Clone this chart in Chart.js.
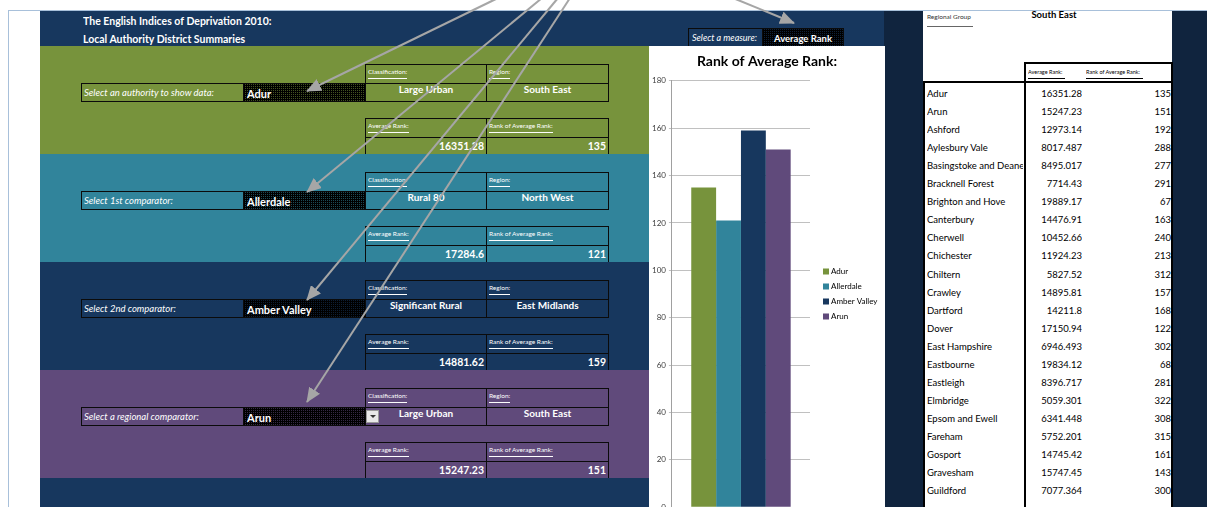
<!DOCTYPE html>
<html>
<head>
<meta charset="utf-8">
<script src="https://cdn.jsdelivr.net/npm/chart.js@4.4.1/dist/chart.umd.min.js"></script>
<style>
  html, body { margin: 0; padding: 0; width: 1207px; height: 507px; overflow: hidden; background: #fff; font-family: Lato, "Open Sans", sans-serif; }
  .abs { position: absolute; box-sizing: border-box; white-space: nowrap; overflow: hidden; }
  .cell { border: 1px solid #0b0b0b; color: #fff; }
  .hdr { font-size: 6.5px; padding: 3px 0 0 2px; }
  .hdr span { display: inline-block; border-bottom: 1px solid #fff; padding-bottom: 3px; }
  .val { font-size: 10px; font-weight: bold; text-align: center; line-height: 11px; }
  .num { font-size: 10.5px; font-weight: bold; text-align: right; padding-right: 2px; line-height: 16px; }
  .lbl { font-size: 9.5px; font-style: italic; padding-left: 2px; line-height: 17px; }
  .pick { font-size: 11px; font-weight: bold; padding-left: 3px; line-height: 19px; background-color: #000; background-size: 2px 2px; }
  .row { font-size: 9.5px; color: #000; line-height: 12px; }
  #chartBox { position: absolute; left: 649px; top: 46px; width: 236px; height: 469px; background: #fff; }
</style>
</head>
<body>
<div id="page"></div>
<div id="chartBox"><canvas id="rankChart"></canvas></div>
<svg id="arrows" class="abs" style="left:0;top:0;overflow:visible" width="1207" height="507"></svg>

<script>
// --- Data ---
const authorities = ["Adur", "Allerdale", "Amber Valley", "Arun"];
const rankOfAverageRank = [135, 121, 159, 151];
const averageRank = ["16351.28", "17284.6", "14881.62", "15247.23"];
const classifications = ["Large Urban", "Rural 80", "Significant Rural", "Large Urban"];
const regions = ["South East", "North West", "East Midlands", "South East"];
const selectLabels = ["Select an authority to show data:", "Select 1st comparator:", "Select 2nd comparator:", "Select a regional comparator:"];
const seriesColors = ["#77933c", "#31849b", "#17375e", "#604a7b"];

// South East regional group table
const seNames = ["Adur", "Arun", "Ashford", "Aylesbury Vale", "Basingstoke and Deane", "Bracknell Forest", "Brighton and Hove",
  "Canterbury", "Cherwell", "Chichester", "Chiltern", "Crawley", "Dartford", "Dover", "East Hampshire", "Eastbourne",
  "Eastleigh", "Elmbridge", "Epsom and Ewell", "Fareham", "Gosport", "Gravesham", "Guildford"];
const seAverageRank = ["16351.28", "15247.23", "12973.14", "8017.487", "8495.017", "7714.43", "19889.17",
  "14476.91", "10452.66", "11924.23", "5827.52", "14895.81", "14211.8", "17150.94", "6946.493", "19834.12",
  "8396.717", "5059.301", "6341.448", "5752.201", "14745.42", "15747.45", "7077.364"];
const seRank = [135, 151, 192, 288, 277, 291, 67, 163, 240, 213, 312, 157, 168, 122, 302, 68, 281, 322, 308, 315, 161, 143, 300];

// --- Page helpers ---
const page = document.getElementById("page");
function box(x, y, w, h, cls, style, html) {
  const d = document.createElement("div");
  d.className = "abs " + (cls || "");
  d.style.cssText = `left:${x}px;top:${y}px;width:${w}px;height:${h}px;` + (style || "");
  if (html !== undefined) d.innerHTML = html;
  page.appendChild(d);
  return d;
}
// excel style dotted fill: a faint dot of the band colour every 2x2 pixels
function dots(color) {
  return `background-image:conic-gradient(${color} 0 25%, transparent 0);`;
}
function fade(hex, a) {
  const n = parseInt(hex.slice(1), 16);
  return `rgba(${n >> 16},${(n >> 8) & 255},${n & 255},${a})`;
}

// frame + header
box(40, 10, 845, 36, "", "background:#17375e");
box(884, 10, 39, 497, "", "background:#10243e");
box(1172, 10, 35, 497, "", "background:#10243e");
box(83, 14, 300, 14, "", "color:#fff;font-weight:bold;font-size:10.5px;line-height:14px", "The English Indices of Deprivation 2010:");
box(83, 32, 300, 14, "", "color:#fff;font-weight:bold;font-size:10.5px;line-height:14px", "Local Authority District Summaries");
box(688, 28, 75, 19, "cell lbl", "font-size:9px;padding-left:3px", "Select a measure:");
box(762, 28, 82, 19, "cell pick", dots(fade("#17375e", 0.6)) + "font-size:9.5px;text-align:center;padding:0", "Average Rank");

// the four coloured bands
authorities.forEach((name, i) => {
  const t = 46 + i * 108;
  box(40, t, 610, 108, "", "background:" + seriesColors[i]);
  box(81, t + 37, 163, 19, "cell lbl", "", selectLabels[i]);
  box(243, t + 37, 123, 19, "cell pick", dots(fade(seriesColors[i], 0.55)), name);
  box(365, t + 18, 122, 20, "cell hdr", "", "<span>Classification:</span>");
  box(486, t + 18, 123, 20, "cell hdr", "", "<span>Region:</span>");
  box(365, t + 37, 122, 19, "cell val", "", classifications[i]);
  box(486, t + 37, 123, 19, "cell val", "", regions[i]);
  box(365, t + 72, 122, 20, "cell hdr", "", "<span>Average Rank:</span>");
  box(486, t + 72, 123, 20, "cell hdr", "", "<span>Rank of Average Rank:</span>");
  box(365, t + 91, 122, 18, "cell num", "", averageRank[i]);
  box(486, t + 91, 123, 18, "cell num", "", rankOfAverageRank[i]);
});
box(40, 478, 610, 29, "", "background:#17375e");
// dropdown button on the regional comparator
box(366, 410, 13, 13, "", "background:#e8e8e8;border:1px solid #9a9a9a;overflow:visible",
  '<div style="margin:4px 0 0 3px;width:0;height:0;border-left:3px solid transparent;border-right:3px solid transparent;border-top:3px solid #333"></div>');

// right hand table
box(923, 10, 249, 497, "", "background:#fff");
box(927, 12, 60, 10, "", "font-size:6.5px;color:#333;line-height:10px", "Regional Group");
box(927, 26, 46, 1, "", "background:#666");
box(1004, 8, 100, 14, "", "font-size:9.5px;font-weight:bold;color:#000;line-height:14px;text-align:center", "South East");
box(1028, 67, 60, 10, "", "font-size:5.5px;color:#000;line-height:10px", "Average Rank:");
box(1028, 78, 37, 1, "", "background:#000");
box(1086, 67, 70, 10, "", "font-size:5.5px;color:#000;line-height:10px", "Rank of Average Rank:");
box(1086, 78, 57, 1, "", "background:#000");
box(1025, 62, 148, 2, "", "background:#000");
box(923, 81, 250, 2, "", "background:#000");
box(923, 81, 2, 426, "", "background:#000");
box(1024, 62, 2, 445, "", "background:#000");
box(1171, 62, 2, 445, "", "background:#000");
seNames.forEach((name, i) => {
  const y = 88 + i * 18.05;
  box(927, y, 96, 12, "row", "", name);
  box(1030, y, 52, 12, "row", "text-align:right", seAverageRank[i]);
  box(1130, y, 41, 12, "row", "text-align:right", seRank[i]);
});

// outer light border
box(8, 10, 1199, 1, "", "background:#a8c0da");
box(8, 10, 1, 497, "", "background:#a8c0da");

// grey callout arrows
const arrows = [[498, -2, 307, 91], [542, -2, 307, 192], [558, -2, 307, 300], [570, -2, 307, 402], [733, -2, 794, 23]];
const svg = document.getElementById("arrows");
let svgHtml = '<defs><marker id="ah" markerUnits="userSpaceOnUse" markerWidth="15" markerHeight="13" refX="14" refY="6.5" orient="auto"><path d="M0,0 L15,6.5 L0,13 z" fill="#a6a6a6"/></marker></defs>';
arrows.forEach(a => {
  svgHtml += `<line x1="${a[0]}" y1="${a[1]}" x2="${a[2]}" y2="${a[3]}" stroke="#a6a6a6" stroke-width="2" marker-end="url(#ah)"/>`;
});
svg.innerHTML = svgHtml;

// --- Chart ---
const font = "Lato, 'Open Sans', sans-serif";

// Excel-like legend: small squares to the right of the plot, centred on it
const sideLegend = {
  id: "sideLegend",
  afterDraw(chart) {
    const { ctx, chartArea } = chart;
    const sets = chart.data.datasets;
    const x = chartArea.right + 13;
    const mid = (chartArea.top + chartArea.bottom) / 2;
    ctx.save();
    ctx.font = `8px ${font}`;
    ctx.textBaseline = "middle";
    sets.forEach((ds, i) => {
      const y = mid + (i - (sets.length - 1) / 2) * 15;
      ctx.fillStyle = ds.backgroundColor;
      ctx.fillRect(x, y - 3, 6, 6);
      ctx.fillStyle = "#000";
      ctx.fillText(ds.label, x + 8, y);
    });
    ctx.restore();
  },
};

new Chart(document.getElementById("rankChart"), {
  type: "bar",
  data: {
    labels: [""],
    datasets: authorities.map((name, i) => ({
      label: name,
      data: [rankOfAverageRank[i]],
      backgroundColor: seriesColors[i],
      borderWidth: 0,
      categoryPercentage: 0.72,
      barPercentage: 1.0,
    })),
  },
  options: {
    responsive: true,
    maintainAspectRatio: false,
    animation: false,
    layout: { padding: 0 },
    plugins: {
      title: {
        display: true,
        text: "Rank of Average Rank:",
        color: "#000",
        font: { family: font, size: 14, weight: "bold" },
        padding: { top: 7, bottom: 11 },
      },
      legend: { display: false },
      tooltip: { enabled: false },
    },
    scales: {
      x: { display: false },
      y: {
        min: 0,
        max: 180,
        ticks: { stepSize: 20, color: "#404040", padding: 3, font: { family: font, size: 8 } },
        grid: { color: "#c0c0c0", tickLength: 3 },
        border: { color: "#a0a0a0" },
      },
      // empty right axis, only keeps room for the legend
      legendSpace: {
        position: "right",
        ticks: { display: false },
        grid: { display: false, drawTicks: false },
        border: { display: false },
        afterFit: (scale) => { scale.width = 75; },
      },
    },
  },
  plugins: [sideLegend],
});
</script>
</body>
</html>
